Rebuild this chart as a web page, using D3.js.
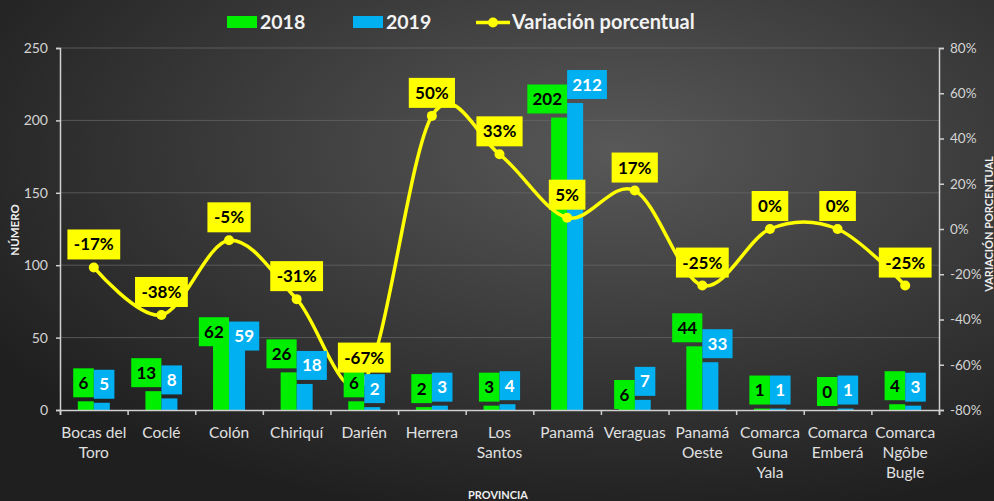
<!DOCTYPE html>
<html><head><meta charset="utf-8">
<script src="https://cdn.jsdelivr.net/npm/d3@7"></script>
<style>html,body{margin:0;padding:0;background:#2a2a2a;overflow:hidden}svg{display:block}</style>
</head><body>
<script>
const categories = ["Bocas del|Toro","Coclé","Colón","Chiriquí","Darién","Herrera","Los|Santos","Panamá","Veraguas","Panamá|Oeste","Comarca|Guna|Yala","Comarca|Emberá","Comarca|Ngôbe|Bugle"];
const values2018 = [6,13,62,26,6,2,3,202,6,44,1,0,4];
const values2019 = [5,8,59,18,2,3,4,212,7,33,1,1,3];
const variation = [-17,-38,-5,-31,-67,50,33,5,17,-25,0,0,-25];
const labelPos2018 = ["out","out","inEnd","out","out","out","out","out","inBase","out","out","out","out"];
const labelPos2019 = ["out","out","inEnd","out","out","out","out","out","out","out","out","out","out"];
const leftTicks = [0,50,100,150,200,250];
const rightTicks = [-80,-60,-40,-20,0,20,40,60,80];
const seriesNames = ["2018","2019","Variación porcentual"];

const W=994,H=501;
const FONT="Lato, 'Open Sans', sans-serif";
const GREEN="#00ee00", BLUE="#00b0f0", YELLOW="#ffff00";
const svg=d3.select("body").append("svg").attr("width",W).attr("height",H);
const defs=svg.append("defs");
const rg=defs.append("radialGradient").attr("id","bg").attr("cx","0.62").attr("cy","0.3").attr("r","0.75");
rg.append("stop").attr("offset","0").attr("stop-color","#585858");
rg.append("stop").attr("offset","1").attr("stop-color","#1f1f1f");
svg.append("rect").attr("width",W).attr("height",H).attr("fill","url(#bg)");

const m={l:60,r:939,t:48,b:410};
const x=d3.scaleBand().domain(d3.range(categories.length)).range([m.l,m.r]).padding(0);
const y=d3.scaleLinear().domain([0,250]).range([m.b,m.t]);
const y2=d3.scaleLinear().domain([-80,80]).range([m.b,m.t]);
const barW=16;

// gridlines
svg.append("g").selectAll("line").data(leftTicks.filter(d=>d>0)).join("line")
  .attr("x1",m.l).attr("x2",m.r).attr("y1",d=>y(d)).attr("y2",d=>y(d))
  .attr("stroke","#6a6a6a").attr("stroke-width",1).attr("opacity",0.7);

// bars
const bars=svg.append("g");
bars.selectAll(".b18").data(values2018).join("rect")
  .attr("x",(d,i)=>x(i)+x.bandwidth()/2-barW).attr("width",barW)
  .attr("y",d=>y(d)).attr("height",d=>m.b-y(d)).attr("fill",GREEN);
bars.selectAll(".b19").data(values2019).join("rect")
  .attr("x",(d,i)=>x(i)+x.bandwidth()/2).attr("width",barW)
  .attr("y",d=>y(d)).attr("height",d=>m.b-y(d)).attr("fill",BLUE);

// axes
const axisColor="#d0d0d0";
const gl=svg.append("g").attr("transform",`translate(${m.l},0)`).call(d3.axisLeft(y).tickValues(leftTicks).tickSize(4).tickPadding(8));
const gr=svg.append("g").attr("transform",`translate(${m.r},0)`).call(d3.axisRight(y2).tickValues(rightTicks).tickSize(5).tickPadding(6).tickFormat(d=>d+"%"));
const gx=svg.append("g").attr("transform",`translate(0,${m.b})`).call(d3.axisBottom(d3.scaleLinear().domain([0,categories.length]).range([m.l,m.r])).tickValues(d3.range(categories.length+1)).tickSize(5).tickFormat(""));
[gl,gr,gx].forEach(g=>{
  g.selectAll("path").attr("stroke",axisColor).attr("stroke-width",1.5);
  g.selectAll("line").attr("stroke",axisColor).attr("stroke-width",1.5);
  g.selectAll("text").attr("fill","#d4d4d4").attr("font-family",FONT).attr("font-size",14);
});
gr.selectAll("text").attr("text-anchor","start").attr("font-size",13.5);

// category labels
const cl=svg.append("g");
categories.forEach((c,i)=>{
  const t=cl.append("text").attr("x",x(i)+x.bandwidth()/2).attr("y",438)
    .attr("text-anchor","middle").attr("fill","#e0e0e0").attr("font-family",FONT).attr("font-size",15.5);
  c.split("|").forEach((ln,j)=>t.append("tspan").attr("x",x(i)+x.bandwidth()/2).attr("y",438+j*20).text(ln));
});

// axis titles
svg.append("text").attr("transform","translate(19,230) rotate(-90)").attr("text-anchor","middle")
  .attr("fill","#eeeeee").attr("font-family",FONT).attr("font-weight","bold").attr("font-size",11.5).text("NÚMERO");
svg.append("text").attr("transform","translate(993,224) rotate(-90)").attr("text-anchor","middle")
  .attr("fill","#eeeeee").attr("font-family",FONT).attr("font-weight","bold").attr("font-size",11).text("VARIACIÓN PORCENTUAL");
svg.append("text").attr("x",498).attr("y",499).attr("text-anchor","middle")
  .attr("fill","#eeeeee").attr("font-family",FONT).attr("font-weight","bold").attr("font-size",11).text("PROVINCIA");

// line
const cx=i=>x(i)+x.bandwidth()/2;
const line=d3.line().x((d,i)=>cx(i)).y(d=>y2(d)).curve(d3.curveCardinal.tension(0));
svg.append("path").datum(variation).attr("d",line).attr("fill","none").attr("stroke",YELLOW).attr("stroke-width",3.5);
svg.append("g").selectAll("circle").data(variation).join("circle")
  .attr("cx",(d,i)=>cx(i)).attr("cy",d=>y2(d)).attr("r",5).attr("fill",YELLOW);

// bar labels
const LF=17, BH=29;
function tw(s){return s.length*9.6}
function barLabel(vals,pos,fill,txt,side){
  const g=svg.append("g");
  vals.forEach((v,i)=>{
    const s=String(v); const w=tw(s)+11;
    const xc=cx(i); const bx= side<0? xc-w : xc;
    const top=y(v);
    let by;
    if(pos[i]==="inEnd") by=top-3;
    else if(pos[i]==="inBase") by=m.b-1-BH;
    else by=top-4-BH;
    g.append("rect").attr("x",bx).attr("y",by).attr("width",w).attr("height",BH).attr("fill",fill);
    g.append("text").attr("x",bx+w/2).attr("y",by+BH/2+6).attr("text-anchor","middle")
      .attr("fill",txt).attr("font-family",FONT).attr("font-weight","bold").attr("font-size",LF).text(s);
  });
}
barLabel(values2018,labelPos2018,GREEN,"#000",-1);
barLabel(values2019,labelPos2019,BLUE,"#fff",1);

// line labels
const ll=svg.append("g");
variation.forEach((v,i)=>{
  const s=v+"%"; const w=(s.length-1)*9.6+(s[0]==="-"?-3:0)+16+11;
  const py=y2(v); const by=py-9-BH;
  ll.append("rect").attr("x",cx(i)-w/2).attr("y",by).attr("width",w).attr("height",BH+1).attr("fill",YELLOW);
  ll.append("text").attr("x",cx(i)).attr("y",by+BH/2+6.5).attr("text-anchor","middle")
    .attr("fill","#000").attr("font-family",FONT).attr("font-weight","bold").attr("font-size",LF).text(s);
});

// legend
const lg=svg.append("g").attr("font-family",FONT).attr("font-weight","bold").attr("font-size",19.5).attr("fill","#f2f2f2");
lg.append("rect").attr("x",227).attr("y",16).attr("width",30).attr("height",12).attr("fill",GREEN);
lg.append("text").attr("x",260).attr("y",29).text(seriesNames[0]);
lg.append("rect").attr("x",353).attr("y",16).attr("width",30).attr("height",12).attr("fill",BLUE);
lg.append("text").attr("x",386).attr("y",29).text(seriesNames[1]);
lg.append("line").attr("x1",476).attr("x2",510).attr("y1",22.5).attr("y2",22.5).attr("stroke",YELLOW).attr("stroke-width",3.5);
lg.append("circle").attr("cx",493).attr("cy",22.5).attr("r",5).attr("fill",YELLOW);
lg.append("text").attr("x",512).attr("y",29).attr("font-size",20).text(seriesNames[2]);
</script>
</body></html>
